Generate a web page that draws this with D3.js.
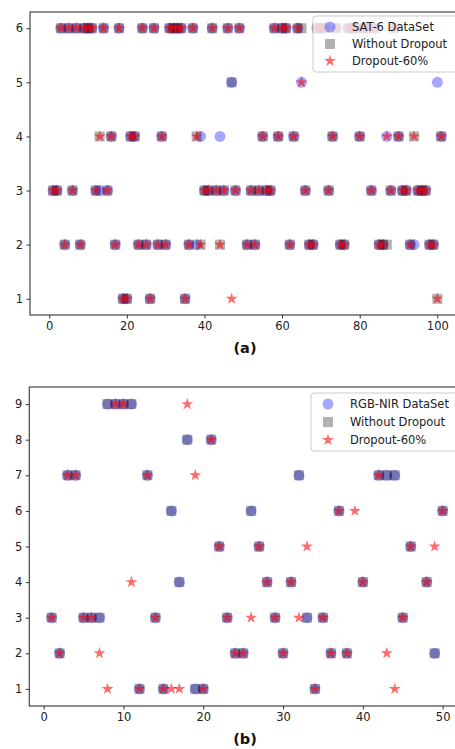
<!DOCTYPE html>
<html>
<head>
<meta charset="utf-8">
<script src="https://cdn.jsdelivr.net/npm/d3@7"></script>
<style>
body { margin: 0; background: #fff; }
svg { display: block; font-family: "DejaVu Sans", sans-serif; }
</style>
</head>
<body>
<div id="chart"></div>
<script>
// (a) SAT-6: sample index, true class, prediction without dropout, prediction with dropout
var satX      = [1, 2, 3, 4, 5, 6, 7, 8, 9, 10, 11, 12, 13, 14, 15, 16, 17, 18, 19, 20,
                 21, 22, 23, 24, 25, 26, 27, 28, 29, 30, 31, 32, 33, 34, 35, 36, 37, 38, 39, 40,
                 41, 42, 43, 44, 45, 46, 47, 48, 49, 51, 52, 53, 54, 55, 56, 57, 58, 59, 60, 61,
                 62, 63, 64, 65, 66, 67, 68, 69, 70, 71, 72, 73, 74, 75, 76, 77, 78, 79, 80, 81,
                 82, 83, 84, 85, 86, 87, 88, 89, 90, 91, 92, 93, 94, 95, 96, 97, 98, 99, 100, 101];
var satTrue   = [3, 3, 6, 2, 6, 3, 6, 2, 6, 6, 6, 3, 3, 6, 3, 4, 2, 6, 1, 1,
                 4, 4, 2, 6, 2, 1, 6, 2, 4, 2, 6, 6, 6, 6, 1, 2, 6, 2, 4, 3,
                 3, 6, 3, 4, 3, 6, 5, 3, 6, 2, 3, 2, 3, 4, 3, 3, 6, 4, 6, 6,
                 2, 4, 6, 5, 3, 2, 2, 6, 6, 6, 3, 4, 6, 2, 2, 6, 6, 6, 4, 6,
                 6, 3, 6, 2, 2, 4, 3, 6, 4, 3, 3, 2, 2, 3, 3, 3, 2, 2, 5, 4];
var satNoDrop = [3, 3, 6, 2, 6, 3, 6, 2, 6, 6, 6, 3, 4, 6, 3, 4, 2, 6, 1, 1,
                 4, 4, 2, 6, 2, 1, 6, 2, 4, 2, 6, 6, 6, 6, 1, 2, 6, 4, 2, 3,
                 3, 6, 3, 2, 3, 6, 5, 3, 6, 2, 3, 2, 3, 4, 3, 3, 6, 4, 6, 6,
                 2, 4, 6, 6, 3, 2, 2, 6, 6, 6, 3, 4, 6, 2, 2, 6, 6, 6, 4, 6,
                 6, 3, 6, 2, 2, 2, 3, 6, 4, 3, 3, 2, 4, 3, 3, 3, 2, 2, 1, 4];
var satDrop   = [3, 3, 6, 2, 6, 3, 6, 2, 6, 6, 6, 3, 4, 6, 3, 4, 2, 6, 1, 1,
                 4, 4, 2, 6, 2, 1, 6, 2, 4, 2, 6, 6, 6, 6, 1, 2, 6, 4, 2, 3,
                 3, 6, 3, 2, 3, 6, 1, 3, 6, 2, 3, 2, 3, 4, 3, 3, 6, 4, 6, 6,
                 2, 4, 6, 5, 3, 2, 2, 6, 6, 6, 3, 4, 6, 2, 2, 6, 6, 6, 4, 6,
                 6, 3, 6, 2, 2, 4, 3, 6, 4, 3, 3, 2, 4, 3, 3, 3, 2, 2, 1, 4];
var satXTicks = [0, 20, 40, 60, 80, 100];
var satYTicks = [1, 2, 3, 4, 5, 6];
var satLegend = ["SAT-6 DataSet", "Without Dropout", "Dropout-60%"];

// (b) RGB-NIR (null = no mark visible)
var rgbX      = [1, 2, 3, 4, 5, 6, 7, 8, 9, 10, 11, 12, 13, 14, 15, 16, 17, 18, 19, 20,
                 21, 22, 23, 24, 25, 26, 27, 28, 29, 30, 31, 32, 33, 34, 35, 36, 37, 38, 39, 40,
                 42, 43, 44, 45, 46, 48, 49, 50];
var rgbTrue   = [3, 2, 7, 7, 3, 3, 3, 9, 9, 9, 9, 1, 7, 3, 1, 6, 4, 8, 1, 1,
                 8, 5, 3, 2, 2, 6, 5, 4, 3, 2, 4, 7, 3, 1, 3, 2, 6, 2, null, 4,
                 7, 7, 7, 3, 5, 4, 2, 6];
var rgbNoDrop = [3, 2, 7, 7, 3, 3, 3, 9, 9, 9, 9, 1, 7, 3, 1, 6, 4, 8, 1, 1,
                 8, 5, 3, 2, 2, 6, 5, 4, 3, 2, 4, 7, 3, 1, 3, 2, 6, 2, null, 4,
                 7, 7, 7, 3, 5, 4, 2, 6];
var rgbDrop   = [3, 2, 7, 7, 3, 3, 2, 1, 9, 9, 4, 1, 7, 3, 1, 1, 1, 9, 7, 1,
                 8, 5, 3, 2, 2, 3, 5, 4, 3, 2, 4, 3, 5, 1, 3, 2, 6, 2, 6, 4,
                 7, 2, 1, 3, 5, 4, 5, 6];
var rgbXTicks = [0, 10, 20, 30, 40, 50];
var rgbYTicks = [1, 2, 3, 4, 5, 6, 7, 8, 9];
var rgbLegend = ["RGB-NIR DataSet", "Without Dropout", "Dropout-60%"];

var svgWidth = 455;
var svgHeight = 749;

var svg = d3.select("#chart")
    .append("svg")
    .attr("width", svgWidth)
    .attr("height", svgHeight);

var circleSym = d3.symbol().type(d3.symbolCircle).size(Math.PI * 5.5 * 5.5);
var squareSym = d3.symbol().type(d3.symbolSquare).size(100);
var starSym = d3.symbol().type(d3.symbolStar).size(44);

var markStyles = [
    { sym: circleSym, fill: "#0000ff", op: 0.35 },
    { sym: squareSym, fill: "#000000", op: 0.3 },
    { sym: starSym, fill: "#ff0000", op: 0.58 }
];

function drawPanel(p) {
    var x = d3.scaleLinear().domain(p.xDomain).range([p.left, p.right]);
    var y = d3.scaleLinear().domain(p.yDomain).range([p.bottom, p.top]);

    var g = svg.append("g");

    // marks: dataset, without dropout, dropout
    [p.trueV, p.noDrop, p.drop].forEach(function(vals, i) {
        var pts = p.xs.map((d, j) => ({ x: d, y: vals[j] })).filter(d => d.y !== null);
        g.append("g").selectAll("path")
            .data(pts)
            .enter()
            .append("path")
            .attr("d", markStyles[i].sym)
            .attr("transform", d => `translate(${x(d.x)},${y(d.y)})`)
            .attr("fill", markStyles[i].fill)
            .attr("fill-opacity", markStyles[i].op);
    });

    // axes
    var xa = g.append("g")
        .attr("transform", `translate(0,${p.bottom})`)
        .call(d3.axisBottom(x).tickValues(p.xTicks).tickFormat(d3.format("d"))
            .tickSize(3.5).tickPadding(3.5));
    var ya = g.append("g")
        .attr("transform", `translate(${p.left},0)`)
        .call(d3.axisLeft(y).tickValues(p.yTicks).tickFormat(d3.format("d"))
            .tickSize(3.5).tickPadding(3.5));
    [xa, ya].forEach(function(a) {
        a.select(".domain").remove();
        a.selectAll("line").attr("stroke", "#333");
        a.selectAll("text")
            .attr("fill", "#222")
            .style("font-size", "11.5px")
            .style("font-family", "DejaVu Sans, sans-serif");
    });

    // frame
    g.append("rect")
        .attr("x", p.left)
        .attr("y", p.top)
        .attr("width", p.right - p.left)
        .attr("height", p.bottom - p.top)
        .attr("fill", "none")
        .attr("stroke", "#444")
        .attr("stroke-width", 1.2);

    // legend
    var lg = g.append("g");
    lg.append("rect")
        .attr("x", p.legX)
        .attr("y", p.legY)
        .attr("width", 170)
        .attr("height", p.legH)
        .attr("rx", 3)
        .attr("fill", "#fff")
        .attr("fill-opacity", 0.8)
        .attr("stroke", "#ccc");
    p.legend.forEach(function(name, i) {
        var cy = p.legY + 11 + i * p.legStep;
        lg.append("path")
            .attr("d", markStyles[i].sym)
            .attr("transform", `translate(${p.legX + 17},${cy})`)
            .attr("fill", markStyles[i].fill)
            .attr("fill-opacity", markStyles[i].op);
        lg.append("text")
            .attr("x", p.legX + 39)
            .attr("y", cy + 4)
            .attr("fill", "#222")
            .style("font-size", "11.5px")
            .text(name);
    });

    // caption
    g.append("text")
        .attr("x", 245)
        .attr("y", p.capY)
        .attr("text-anchor", "middle")
        .attr("fill", "#111")
        .style("font-size", "14.5px")
        .style("font-weight", "bold")
        .text(p.caption);
}

drawPanel({
    xs: satX, trueV: satTrue, noDrop: satNoDrop, drop: satDrop,
    xDomain: [-4.95, 106.1], yDomain: [0.7, 6.3],
    left: 30, right: 461, top: 12, bottom: 315,
    xTicks: satXTicks, yTicks: satYTicks,
    legend: satLegend, legX: 313, legY: 16, legH: 56, legStep: 17,
    caption: "(a)", capY: 353
});

drawPanel({
    xs: rgbX, trueV: rgbTrue, noDrop: rgbNoDrop, drop: rgbDrop,
    xDomain: [-1.8, 52.3], yDomain: [0.52, 9.48],
    left: 29.3, right: 461, top: 387, bottom: 706,
    xTicks: rgbXTicks, yTicks: rgbYTicks,
    legend: rgbLegend, legX: 311, legY: 393, legH: 58, legStep: 18,
    caption: "(b)", capY: 744
});
</script>
</body>
</html>
